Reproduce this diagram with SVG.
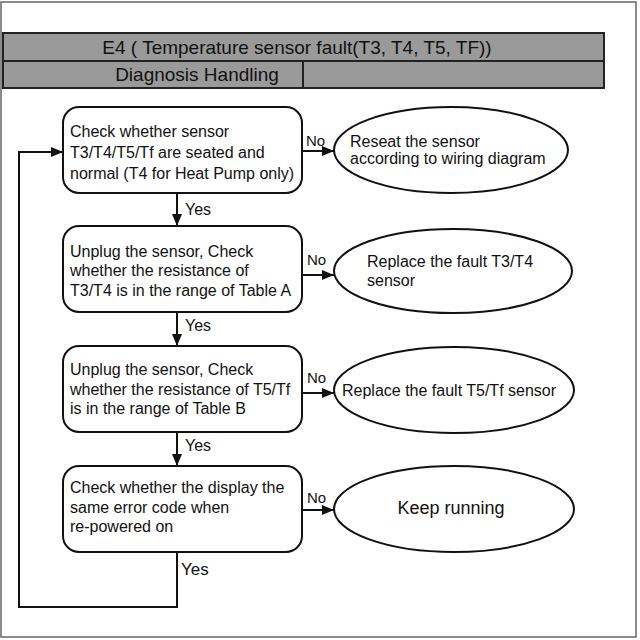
<svg xmlns="http://www.w3.org/2000/svg" width="640" height="640" viewBox="0 0 640 640">
<defs>
<marker id="ah" viewBox="0 0 12 10" refX="12" refY="5" markerWidth="12" markerHeight="10" markerUnits="userSpaceOnUse" orient="auto">
<path d="M0,0 L12,5 L0,10 Z" fill="#111"/>
</marker>
<style>
text{font-family:"Liberation Sans",Arial,sans-serif;fill:#111}
.t{font-size:16px}
.h{font-size:19px}
.lbl{font-size:15px}
.box{fill:#fff;stroke:#111;stroke-width:2}
.hdr{fill:#9a9a9a;stroke:#222;stroke-width:2}
.c{fill:none;stroke:#111;stroke-width:2}
</style>
</defs>
<rect x="1" y="2" width="635" height="635" fill="#fff" stroke="#666" stroke-width="1.5"/>
<g id="header">
<rect class="hdr" x="3" y="33" width="601" height="28"/>
<rect class="hdr" x="3" y="61" width="300" height="27"/>
<rect class="hdr" x="303" y="61" width="301" height="27"/>
<text class="h" x="297" y="54" text-anchor="middle">E4 ( Temperature sensor fault(T3, T4, T5, TF))</text>
<text class="h" x="197" y="81" text-anchor="middle">Diagnosis Handling</text>
</g>
<g id="connectors">
<line class="c" x1="302" y1="151" x2="334" y2="151" marker-end="url(#ah)"/>
<line class="c" x1="302" y1="275" x2="334" y2="275" marker-end="url(#ah)"/>
<line class="c" x1="302" y1="393" x2="334" y2="393" marker-end="url(#ah)"/>
<line class="c" x1="302" y1="510" x2="334" y2="510" marker-end="url(#ah)"/>
<line class="c" x1="177" y1="193" x2="177" y2="226" marker-end="url(#ah)"/>
<line class="c" x1="177" y1="312" x2="177" y2="346" marker-end="url(#ah)"/>
<line class="c" x1="177" y1="432" x2="177" y2="466" marker-end="url(#ah)"/>
<polyline class="c" points="177,552 177,607 19,607 19,152 63,152" marker-end="url(#ah)"/>
<text class="lbl" x="306" y="146">No</text>
<text class="lbl" x="307" y="265">No</text>
<text class="lbl" x="307" y="383">No</text>
<text class="lbl" x="307" y="503">No</text>
<text class="t" x="185" y="215">Yes</text>
<text class="t" x="185" y="331">Yes</text>
<text class="t" x="185" y="451">Yes</text>
<text class="t" x="181" y="575" style="font-size:17px">Yes</text>
</g>
<g id="check1">
<rect class="box" x="63" y="107" width="239" height="86" rx="16"/>
<text class="t" x="70" y="137">Check whether sensor</text>
<text class="t" x="70" y="158">T3/T4/T5/Tf are seated and</text>
<text class="t" x="70" y="179">normal (T4 for Heat Pump only)</text>
</g>
<g id="reseat">
<ellipse class="box" cx="451" cy="150" rx="117" ry="43"/>
<text class="t" x="350" y="147">Reseat the sensor</text>
<text class="t" x="350" y="164">according to wiring diagram</text>
</g>
<g id="check2">
<rect class="box" x="63" y="226" width="239" height="86" rx="16"/>
<text class="t" x="70" y="257">Unplug the sensor, Check</text>
<text class="t" x="70" y="276">whether the resistance of</text>
<text class="t" x="70" y="296">T3/T4 is in the range of Table A</text>
</g>
<g id="replace1">
<ellipse class="box" cx="453" cy="271" rx="119" ry="42"/>
<text class="t" x="367" y="267">Replace the fault T3/T4</text>
<text class="t" x="367" y="286">sensor</text>
</g>
<g id="check3">
<rect class="box" x="63" y="346" width="239" height="86" rx="16"/>
<text class="t" x="70" y="375">Unplug the sensor, Check</text>
<text class="t" x="70" y="395">whether the resistance of T5/Tf</text>
<text class="t" x="70" y="414">is in the range of Table B</text>
</g>
<g id="replace2">
<ellipse class="box" cx="454" cy="390" rx="120" ry="43"/>
<text class="t" x="342" y="396">Replace the fault T5/Tf sensor</text>
</g>
<g id="check4">
<rect class="box" x="63" y="466" width="239" height="86" rx="16"/>
<text class="t" x="70" y="493">Check whether the display the</text>
<text class="t" x="70" y="513">same error code when</text>
<text class="t" x="70" y="532">re-powered on</text>
</g>
<g id="keep">
<ellipse class="box" cx="454" cy="509" rx="120" ry="43"/>
<text x="451" y="514" text-anchor="middle" style="font-size:18px">Keep running</text>
</g>
</svg>
